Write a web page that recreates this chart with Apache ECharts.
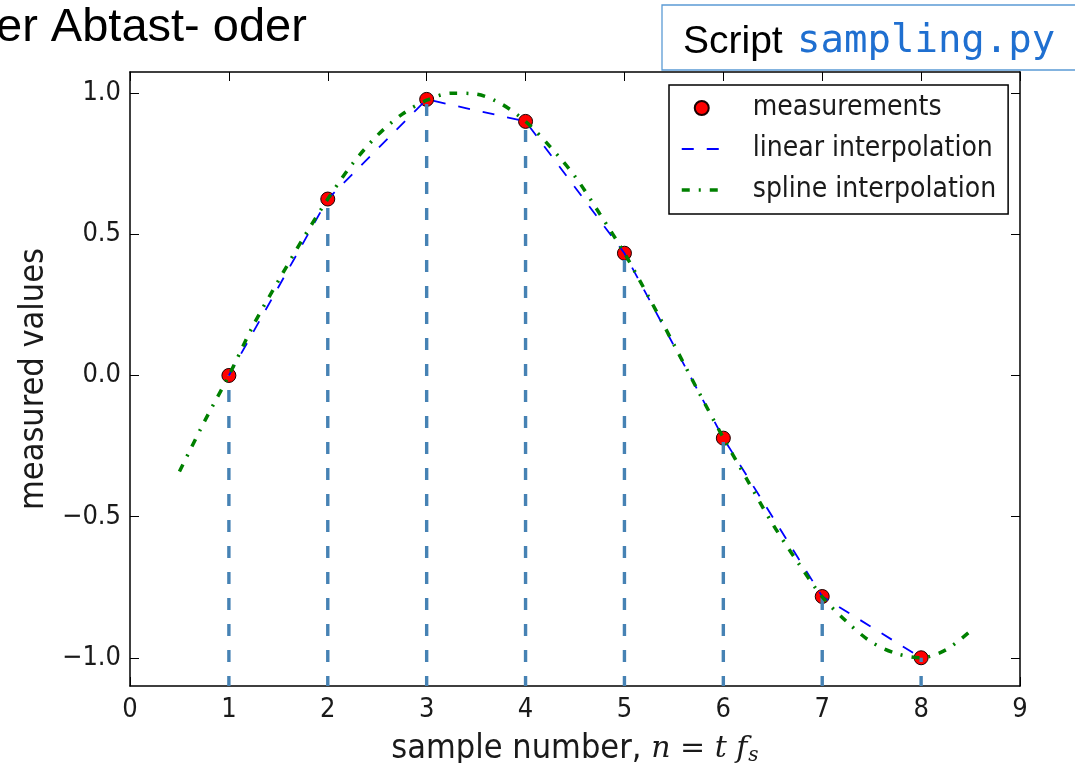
<!DOCTYPE html>
<html>
<head>
<meta charset="utf-8">
<title>sampling</title>
<script src="https://cdn.jsdelivr.net/npm/echarts@6/dist/echarts.min.js"></script>
<style>
  html, body { margin: 0; padding: 0; background: #fff; }
  #chart { width: 1075px; height: 763px; }
</style>
</head>
<body>
<div id="chart"></div>
<script>
// Sample positions and the measured values at each sample
const sampleX = [1, 2, 3, 4, 5, 6, 7, 8];
const measured = [0.0, 0.625, 0.978, 0.9, 0.433, -0.222, -0.783, -1.0];

// Cubic-spline curve through the samples (extended half a step either side)
const splineX = [0.5, 0.75, 1.0, 1.25, 1.5, 1.75, 2.0, 2.25, 2.5, 2.75, 3.0, 3.25, 3.5, 3.75,
                 4.0, 4.25, 4.5, 4.75, 5.0, 5.25, 5.5, 5.75, 6.0, 6.25, 6.5, 6.75, 7.0, 7.25,
                 7.5, 7.75, 8.0, 8.25, 8.5];
const splineY = [-0.34, -0.165, 0.0, 0.18, 0.335, 0.485, 0.625, 0.75, 0.85, 0.925, 0.975, 1.0, 0.997, 0.963,
                 0.9, 0.81, 0.705, 0.573, 0.433, 0.275, 0.11, -0.058, -0.221, -0.375, -0.527, -0.66, -0.784, -0.873,
                 -0.945, -0.985, -1.0, -0.972, -0.905];

// Axis ranges and tick labels
const xRange = [0, 9];
const yRange = [-1.1, 1.075];
const xTicks = [0, 1, 2, 3, 4, 5, 6, 7, 8, 9];
const yTicks = [-1.0, -0.5, 0.0, 0.5, 1.0];

const seriesNames = ['measurements', 'linear interpolation', 'spline interpolation'];

const TICK_FONT = "'DejaVu Sans Condensed', 'DejaVu Sans', sans-serif";
const MATH_FONT = "'DejaVu Serif', 'Liberation Serif', serif";
const fmtY = v => v.toFixed(1).replace('-', '\u2212');

const chart = echarts.init(document.getElementById('chart'), null, { renderer: 'canvas' });

const frameAxis = {
  axisLine: { show: true, onZero: false, lineStyle: { color: '#000', width: 1.5 } },
  splitLine: { show: false }
};
const tickStyle = { show: true, inside: true, length: 9, lineStyle: { color: '#000', width: 1 } };

chart.setOption({
  animation: false,
  backgroundColor: '#fff',
  grid: { left: 130, right: 55, top: 72, bottom: 77, containLabel: false, outerBoundsMode: 'none' },
  xAxis: [
    Object.assign({
      type: 'value', min: xRange[0], max: xRange[1], interval: 1, position: 'bottom',
      axisTick: Object.assign({ customValues: xTicks }, tickStyle),
      axisLabel: { show: true, margin: 10, color: '#1a1a1a', fontSize: 27, fontFamily: TICK_FONT,
                   customValues: xTicks, formatter: v => String(v) },
      name: '{t|sample number, }{m|n}{r| = }{m|t f}{s|s}',
      nameLocation: 'middle', nameGap: 46,
      nameTextStyle: {
        color: '#1a1a1a', fontSize: 34, fontFamily: TICK_FONT,
        rich: {
          t: { fontSize: 34, fontFamily: TICK_FONT, color: '#1a1a1a' },
          m: { fontSize: 30, fontFamily: MATH_FONT, fontStyle: 'italic', color: '#1a1a1a' },
          r: { fontSize: 30, fontFamily: MATH_FONT, color: '#1a1a1a' },
          s: { fontSize: 20, fontFamily: MATH_FONT, fontStyle: 'italic', color: '#1a1a1a',
               verticalAlign: 'bottom', padding: [14, 0, 0, 1] }
        }
      }
    }, frameAxis),
    Object.assign({
      type: 'value', min: xRange[0], max: xRange[1], interval: 1, position: 'top',
      axisTick: Object.assign({ customValues: xTicks }, tickStyle),
      axisLabel: { show: false }
    }, frameAxis)
  ],
  yAxis: [
    Object.assign({
      type: 'value', min: yRange[0], max: yRange[1], position: 'left',
      axisTick: Object.assign({ customValues: yTicks }, tickStyle),
      axisLabel: { show: true, margin: 9, color: '#1a1a1a', fontSize: 27, fontFamily: TICK_FONT,
                   customValues: yTicks, formatter: fmtY },
      name: 'measured values', nameLocation: 'middle', nameGap: 79, nameRotate: 90,
      nameTextStyle: { color: '#1a1a1a', fontSize: 34, fontFamily: TICK_FONT }
    }, frameAxis),
    Object.assign({
      type: 'value', min: yRange[0], max: yRange[1], position: 'right',
      axisTick: Object.assign({ customValues: yTicks }, tickStyle),
      axisLabel: { show: false }
    }, frameAxis)
  ],
  legend: {
    orient: 'vertical', left: 669, top: 85,
    selectedMode: false,
    backgroundColor: '#fff', borderColor: '#000', borderWidth: 1.5, borderRadius: 0,
    padding: [9, 12, 10, 11],
    itemWidth: 40, itemHeight: 14, itemGap: 13,
    textStyle: { fontSize: 28, lineHeight: 28, fontFamily: TICK_FONT, color: '#1a1a1a', padding: [0, 0, 0, 26] },
    data: [
      { name: seriesNames[0], icon: 'circle' },
      { name: seriesNames[1], itemStyle: { opacity: 0 }, lineStyle: { width: 2 } },
      { name: seriesNames[2], itemStyle: { opacity: 0 }, lineStyle: { width: 3.5 } }
    ]
  },
  series: [
    {
      name: seriesNames[0], type: 'scatter', z: 1,
      data: sampleX.map((x, i) => [x, measured[i]]),
      symbol: 'circle', symbolSize: 14,
      itemStyle: { color: '#ff0000', borderColor: '#1a0000', borderWidth: 1, opacity: 1 }
    },
    {
      // vertical dashed stems from the bottom of the axes up to each sample
      name: 'stems', type: 'custom', z: 2, clip: true,
      data: sampleX.map((x, i) => [x, measured[i]]),
      renderItem: (params, api) => {
        const top = api.coord([api.value(0), api.value(1)]);
        const bottom = api.coord([api.value(0), yRange[0]]);
        return {
          type: 'line',
          shape: { x1: bottom[0], y1: bottom[1], x2: top[0], y2: top[1] },
          style: { stroke: '#4682b4', lineWidth: 3.4, lineDash: [12, 14], lineDashOffset: 2 }
        };
      }
    },
    {
      name: seriesNames[1], type: 'line', z: 3,
      data: sampleX.map((x, i) => [x, measured[i]]),
      symbol: 'none', smooth: false,
      lineStyle: { color: '#0000ff', width: 1.8, type: [12, 13] },
      itemStyle: { color: '#0000ff' }
    },
    {
      name: seriesNames[2], type: 'line', z: 4,
      data: splineX.map((x, i) => [x, splineY[i]]),
      symbol: 'none', smooth: 0.3,
      lineStyle: { color: '#008000', width: 3.5, type: [8, 9, 2, 9] },
      itemStyle: { color: '#008000' }
    }
  ],
  graphic: [
    {
      type: 'text', left: -4, top: 5, z: 10,
      style: { text: 'er Abtast- oder', fontSize: 47, fontFamily: "'Liberation Sans', Arial, sans-serif", fill: '#000' }
    },
    {
      type: 'rect', z: 10,
      shape: { x: 662, y: 5, width: 430, height: 65 },
      style: { fill: '#fff', stroke: '#5b9bd5', lineWidth: 1.3 }
    },
    {
      type: 'text', z: 11, x: 683, y: 42,
      style: { text: 'Script', fontSize: 39, fontFamily: "'Liberation Sans', Arial, sans-serif", fill: '#000',
               verticalAlign: 'middle' }
    },
    {
      type: 'text', z: 11, x: 797, y: 42,
      style: { text: 'sampling.py', fontSize: 39, fontFamily: "'DejaVu Sans Mono', 'Liberation Mono', monospace",
               fill: '#1f6fd0', verticalAlign: 'middle' }
    }
  ]
});
</script>
</body>
</html>
